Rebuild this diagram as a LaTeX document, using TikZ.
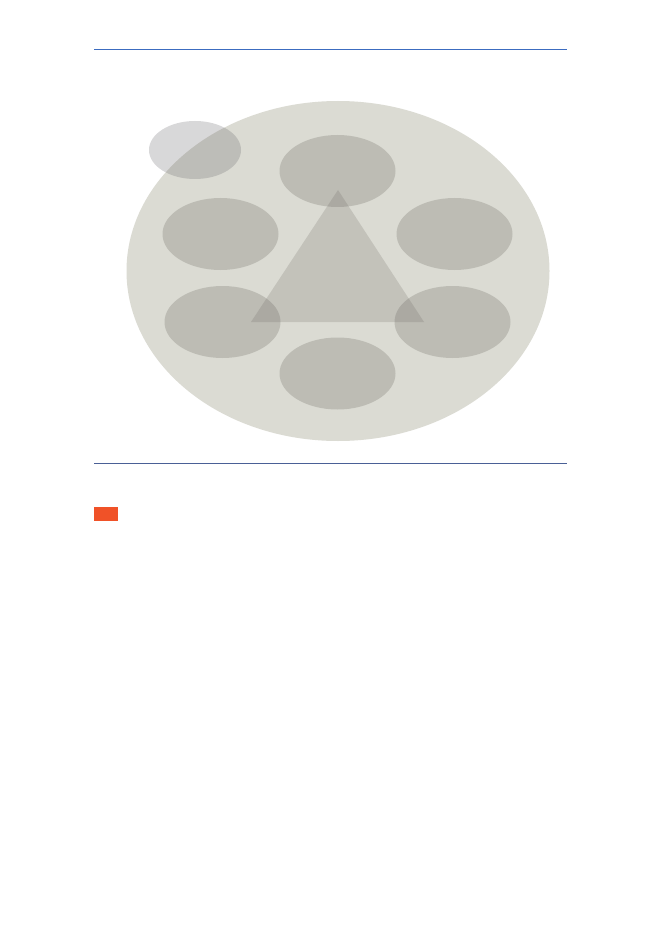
\documentclass[tikz,border=0pt]{standalone}
\definecolor{bigfill}{RGB}{219,219,211}
\definecolor{ovfill}{RGB}{110,108,100}
\definecolor{tlfill}{RGB}{103,101,106}
\definecolor{trifill}{RGB}{100,96,90}
\definecolor{ruleblue}{RGB}{60,108,192}
\definecolor{ruledark}{RGB}{74,96,150}
\definecolor{markorange}{RGB}{240,82,40}
\begin{document}
\begin{tikzpicture}[x=1pt,y=-1pt,
  bigell/.style={fill=bigfill,draw=none},
  petal/.style={fill=ovfill,fill opacity=0.27,draw=none},
  tlell/.style={fill=tlfill,fill opacity=0.25,draw=none},
  tri/.style={fill=trifill,fill opacity=0.2,draw=none},
  rulea/.style={draw=ruleblue,line width=0.9pt},
  ruleb/.style={draw=ruledark,line width=0.9pt}]
\useasboundingbox (0,0) rectangle (661,933);
\fill[white] (0,0) rectangle (661,933);
% rules
\coordinate (ta) at (94,49.3);
\coordinate (tb) at (567,49.3);
\coordinate (ba) at (94,463.3);
\coordinate (bb) at (567,463.3);
\draw[rulea] (ta) -- (tb);
\draw[ruleb] (ba) -- (bb);
% big ellipse
\fill[bigell] (338,271) ellipse [x radius=211.5, y radius=170];
% top-left light ellipse
\fill[tlell] (195,150) ellipse [x radius=46, y radius=29];
% six ellipses
\fill[petal] (337.5,171) ellipse [x radius=58, y radius=36];
\fill[petal] (220.5,234) ellipse [x radius=58, y radius=36];
\fill[petal] (454.5,234) ellipse [x radius=58, y radius=36];
\fill[petal] (222.5,322) ellipse [x radius=58, y radius=36];
\fill[petal] (452.5,322) ellipse [x radius=58, y radius=36];
\fill[petal] (337.5,373.5) ellipse [x radius=58, y radius=36];
% triangle
\fill[tri] (338,190) -- (424,322) -- (251,322) -- cycle;
% orange marker
\fill[markorange] (94,507) rectangle (117.7,520.7);
\end{tikzpicture}
\end{document}
